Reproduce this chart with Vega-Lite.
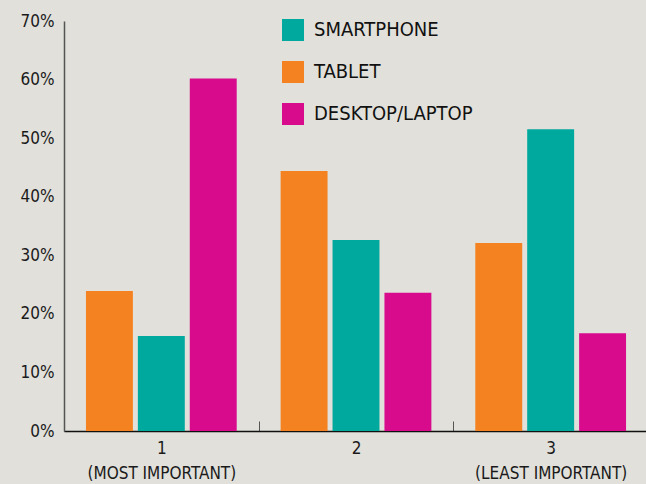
{
  "$schema": "https://vega.github.io/schema/vega-lite/v6.json",
  "width": 584,
  "height": 410,
  "autosize": {"type": "none"},
  "padding": {"left": 64, "top": 21, "right": -2, "bottom": 53},
  "background": "#e1e0da",
  "config": {
    "view": {"stroke": null},
    "font": "Liberation Sans Narrow, DejaVu Sans Condensed, sans-serif"
  },
  "data": {
    "values": [
      {"rank": "1", "device": "TABLET", "share": 0.239},
      {"rank": "1", "device": "SMARTPHONE", "share": 0.162},
      {"rank": "1", "device": "DESKTOP/LAPTOP", "share": 0.602},
      {"rank": "2", "device": "TABLET", "share": 0.444},
      {"rank": "2", "device": "SMARTPHONE", "share": 0.326},
      {"rank": "2", "device": "DESKTOP/LAPTOP", "share": 0.236},
      {"rank": "3", "device": "TABLET", "share": 0.321},
      {"rank": "3", "device": "SMARTPHONE", "share": 0.515},
      {"rank": "3", "device": "DESKTOP/LAPTOP", "share": 0.167}
    ]
  },
  "mark": {"type": "bar"},
  "encoding": {
    "x": {
      "field": "rank",
      "type": "nominal",
      "scale": {"paddingInner": 0, "paddingOuter": 0},
      "axis": {
        "title": null,
        "labelAngle": 0,
        "labelFontSize": 17,
        "labelColor": "#1a1a1a",
        "labelPadding": 19,
        "labelLineHeight": 25,
        "labelExpr": "datum.value == '1' ? ['1', '(MOST IMPORTANT)'] : datum.value == '3' ? ['3', '(LEAST IMPORTANT)'] : datum.value",
        "tickBand": "extent",
        "tickSize": -10,
        "tickColor": "#555555",
        "domainColor": "#111111",
        "domainWidth": 1.5
      }
    },
    "xOffset": {
      "field": "device",
      "type": "nominal",
      "sort": ["TABLET", "SMARTPHONE", "DESKTOP/LAPTOP"],
      "scale": {"paddingInner": 0.096, "paddingOuter": 0.423}
    },
    "y": {
      "field": "share",
      "type": "quantitative",
      "scale": {"domain": [0, 0.7]},
      "axis": {
        "title": null,
        "format": ".0%",
        "values": [0, 0.1, 0.2, 0.3, 0.4, 0.5, 0.6, 0.7],
        "grid": false,
        "ticks": false,
        "labelFontSize": 17,
        "labelColor": "#1a1a1a",
        "labelPadding": 10,
        "domainColor": "#555555",
        "domainWidth": 1.5
      }
    },
    "color": {
      "field": "device",
      "type": "nominal",
      "scale": {
        "domain": ["SMARTPHONE", "TABLET", "DESKTOP/LAPTOP"],
        "range": ["#00a99d", "#f58220", "#d70b8c"]
      },
      "legend": {
        "title": null,
        "orient": "none",
        "legendX": 218,
        "legendY": -2,
        "symbolType": "square",
        "symbolSize": 484,
        "symbolOpacity": 1,
        "symbolStrokeWidth": 0,
        "labelFontSize": 20,
        "labelColor": "#111111",
        "labelOffset": 10,
        "rowPadding": 20
      }
    }
  }
}
